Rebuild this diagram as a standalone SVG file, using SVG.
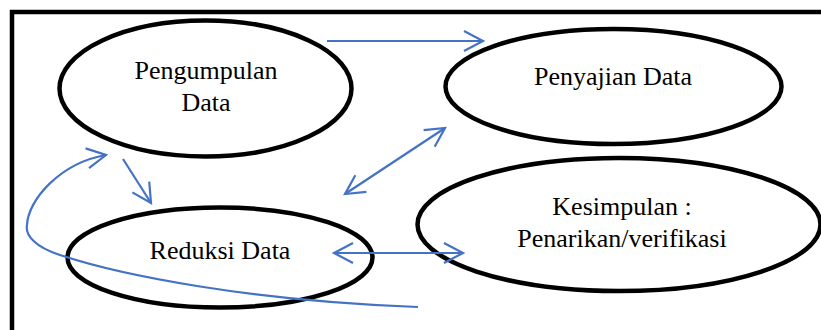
<svg xmlns="http://www.w3.org/2000/svg" width="821" height="330" viewBox="0 0 821 330">
<defs>
<style>
.node ellipse{fill:#fff;stroke:#000;stroke-width:4.5}
.node text{font-family:"Liberation Serif","Times New Roman",serif;font-size:26px;fill:#000;text-anchor:middle}
.conn path{fill:none;stroke:#4472C4;stroke-width:2.2}
</style>
<marker id="ah" markerUnits="userSpaceOnUse" markerWidth="30" markerHeight="30" viewBox="-25 -15 30 30" refX="0" refY="0" orient="auto-start-reverse" overflow="visible">
<path d="M -19 -10 L 0 0 L -19 10" fill="none" stroke="#4472C4" stroke-width="2.2" stroke-linejoin="miter"/>
</marker>
</defs>
<rect width="821" height="330" fill="#fff"/>
<path d="M 12 340 V 12 H 830" fill="none" stroke="#000" stroke-width="4.5"/>
<g id="pengumpulan" class="node">
<ellipse cx="205.5" cy="88.5" rx="146" ry="68"/>
<text x="206" y="79">Pengumpulan</text>
<text x="206" y="111">Data</text>
</g>
<g id="penyajian" class="node">
<ellipse cx="613.5" cy="86.5" rx="168" ry="57.5"/>
<text x="613" y="85">Penyajian Data</text>
</g>
<g id="kesimpulan" class="node">
<ellipse cx="619" cy="224.5" rx="201.5" ry="66.5"/>
<text x="622" y="215">Kesimpulan :</text>
<text x="622" y="247">Penarikan/verifikasi</text>
</g>
<g id="reduksi" class="node">
<ellipse cx="220" cy="257.5" rx="152.5" ry="50"/>
<text x="220" y="259">Reduksi Data</text>
</g>
<g id="connectors" class="conn">
<path d="M 327 41 L 483 41" marker-end="url(#ah)"/>
<path d="M 345 194 L 445 128" marker-start="url(#ah)" marker-end="url(#ah)"/>
<path d="M 123 159 L 151 203" marker-end="url(#ah)"/>
<path d="M 334 253 L 463 253" marker-start="url(#ah)" marker-end="url(#ah)"/>
<path d="M 418 307 C 250 301, 120 275, 60 255 C 35 247, 25 235, 27 225 C 28 200, 60 163, 106 155" marker-end="url(#ah)"/>
</g>
</svg>
